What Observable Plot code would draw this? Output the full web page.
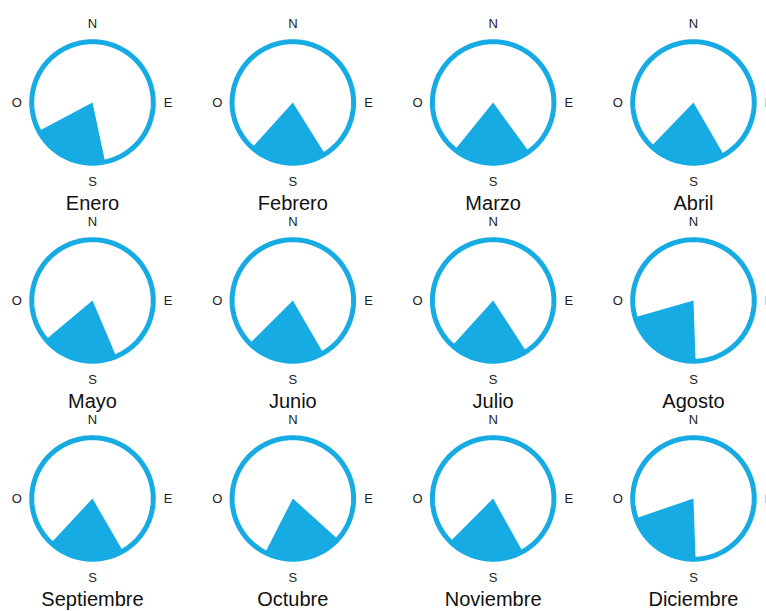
<!DOCTYPE html>
<html>
<head>
<meta charset="utf-8">
<script src="https://cdn.jsdelivr.net/npm/d3@7"></script>
<script src="https://cdn.jsdelivr.net/npm/@observablehq/plot@0.6"></script>
<style>
  html, body { margin: 0; padding: 0; background: #ffffff; }
  #chart { width: 766px; height: 611px; overflow: hidden; }
</style>
</head>
<body>
<div id="chart"></div>
<script>
// Months (reading order, 4 per row)
const months = ["Enero", "Febrero", "Marzo", "Abril", "Mayo", "Junio",
                "Julio", "Agosto", "Septiembre", "Octubre", "Noviembre", "Diciembre"];
// Dominant wind sector, bearing in degrees clockwise from North
const sectorStart = [168, 148, 144, 150, 157, 150, 147, 178, 150, 132, 151, 178];
const sectorEnd   = [242, 222, 219, 224, 230, 225, 222, 254, 223, 207, 225, 251];
// Compass point labels and their bearings
const compassLabels = ["N", "E", "S", "O"];
const compassBearings = [0, 90, 180, 270];

const BLUE = "#17ABE3";
const COLS = 4;
const rad = (deg) => deg * Math.PI / 180;
const px = (r, b) => r * Math.sin(rad(b));
const py = (r, b) => r * Math.cos(rad(b));

// Build one table (needed so every mark shares the facet data)
const all = [];
months.forEach((m, i) => {
  const col = i % COLS, row = Math.floor(i / COLS);
  // ring outline
  for (let b = 0; b < 360; b += 2) {
    all.push({kind: "ring", col, row, x: px(1, b), y: py(1, b)});
  }
  // wind sector
  all.push({kind: "sector", col, row, x: 0, y: 0});
  const s = sectorStart[i], e = sectorEnd[i];
  const n = Math.ceil((e - s) / 1);
  for (let k = 0; k <= n; k++) {
    const b = s + (e - s) * k / n;
    all.push({kind: "sector", col, row, x: px(1, b), y: py(1, b)});
  }
  // compass labels
  compassLabels.forEach((t, j) => {
    const b = compassBearings[j];
    const r = (b % 180 === 0) ? 1.30 : 1.245;
    all.push({kind: "compass", col, row, x: px(r, b), y: py(r, b), text: t});
  });
  // month label
  all.push({kind: "month", col, row, x: 0, y: -1.66, text: m});
});

const chart = Plot.plot({
  width: 766,
  height: 611,
  margin: 0,
  marginTop: 0, marginRight: 0, marginBottom: 0, marginLeft: 0,
  style: {fontFamily: "'Liberation Sans', Arial, Helvetica, sans-serif", background: "#ffffff"},
  facet: {data: all, x: "col", y: "row", label: null, marginTop: 0, marginRight: 0, marginBottom: 0, marginLeft: 0},
  fx: {domain: [0, 1, 2, 3], paddingInner: 0.351, paddingOuter: 0.0874, align: 0.771, axis: null, round: false},
  fy: {domain: [0, 1, 2], paddingInner: 0.3434, paddingOuter: 0.2146, align: 0.435, axis: null, round: false},
  x: {domain: [-1.07, 1.07], axis: null},
  y: {domain: [-1.07, 1.07], axis: null},
  marks: [
    Plot.line(all, {filter: d => d.kind === "sector", x: "x", y: "y", fill: BLUE, stroke: "none", curve: "linear-closed"}),
    Plot.line(all, {filter: d => d.kind === "ring", x: "x", y: "y", stroke: BLUE, strokeWidth: 5, fill: "none", curve: "linear-closed"}),
    Plot.text(all, {filter: d => d.kind === "compass", x: "x", y: "y", text: "text", fontSize: 13, fill: "#222222"}),
    Plot.text(all, {filter: d => d.kind === "month", x: "x", y: "y", text: "text", fontSize: 20, fill: "#111111"})
  ]
});
document.getElementById("chart").appendChild(chart);
</script>
</body>
</html>
